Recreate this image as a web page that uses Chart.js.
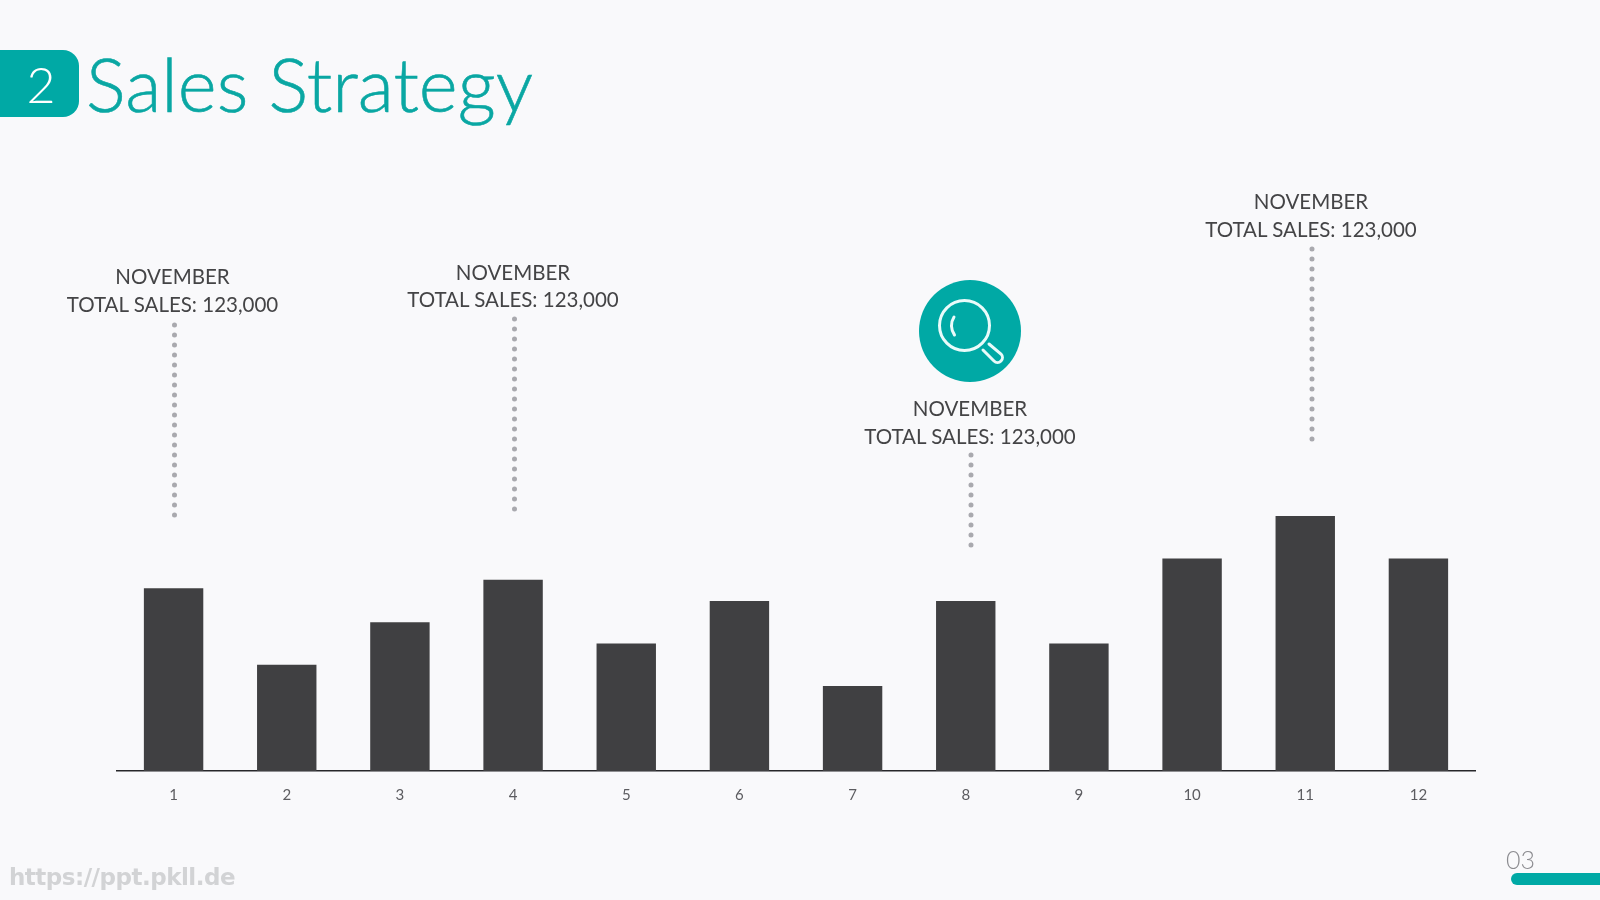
<!DOCTYPE html>
<html>
<head>
<meta charset="utf-8">
<title>Sales Strategy</title>
<script src="https://cdn.jsdelivr.net/npm/chart.js@4"></script>
<style>
    html, body { margin: 0; padding: 0; }
    body { width: 1600px; height: 900px; background: #f9f9fb; overflow: hidden; position: relative; font-family: Lato, sans-serif; }
    #salesChart { position: absolute; left: 0; top: 0; }
    #decor { position: absolute; left: 0; top: 0; }
    .badge { position: absolute; left: 0; top: 50px; width: 79px; height: 67px; background: #00a9a5; border-radius: 0 16px 16px 0; }
    .badge-num { position: absolute; left: 0; top: 48px; width: 82px; height: 72px; line-height: 72px; text-align: center; color: #fff; font-size: 50px; font-weight: 300; }
    .title { position: absolute; left: 86px; top: 37px; color: #0aa7a3; font-size: 74.5px; line-height: 92px; font-weight: 300; white-space: nowrap; -webkit-text-stroke: 0.6px #0aa7a3; }
    .callout { position: absolute; width: 300px; text-align: center; color: #444446; font-size: 20.5px; line-height: 27.5px; white-space: nowrap; }
    .watermark { position: absolute; left: 9px; top: 862px; color: #d2d3d5; font-family: "DejaVu Sans", sans-serif; font-weight: bold; font-size: 23px; line-height: 30px; letter-spacing: -0.5px; white-space: nowrap; }
    .page-num { position: absolute; left: 1506px; top: 844px; color: #8c8c90; font-size: 25px; line-height: 30px; font-weight: 300; }
    .page-bar { position: absolute; left: 1511px; top: 873px; width: 89px; height: 12px; background: #00a9a5; border-radius: 6px 0 0 6px; }
</style>
</head>
<body>
<canvas id="salesChart" width="1600" height="900"></canvas>
<svg id="decor" width="1600" height="900" xmlns="http://www.w3.org/2000/svg"></svg>
<div class="badge"></div>
<div class="badge-num">2</div>
<div class="title">Sales Strategy</div>
<div class="watermark">https://ppt.pkll.de</div>
<div class="page-num">03</div>
<div class="page-bar"></div>
<script>
const categories = ["1", "2", "3", "4", "5", "6", "7", "8", "9", "10", "11", "12"];
const salesValues = [4.3, 2.5, 3.5, 4.5, 3, 4, 2, 4, 3, 5, 6, 5];

const calloutMonth = "NOVEMBER";
const calloutTotal = "TOTAL SALES: 123,000";

// text centre x, first line y, dotted line x / top / bottom
const calloutLayout = [
    [172.5, 277, 174.5, 325, 518],
    [513, 272.5, 514.5, 319, 513],
    [970, 409, 971, 455, 546],
    [1311, 202, 1312, 249, 441],
];

const BAR_COLOR = "#404042";
const AXIS_COLOR = "#27272a";
const TICK_COLOR = "#5c5c60";
const TEAL = "#00a9a5";
const DOT_COLOR = "#a9a9ae";

new Chart(document.getElementById("salesChart").getContext("2d"), {
    type: "bar",
    data: {
        labels: categories,
        datasets: [{
            data: salesValues,
            backgroundColor: BAR_COLOR,
            barPercentage: 0.525,
            categoryPercentage: 1,
        }],
    },
    options: {
        responsive: false,
        animation: false,
        layout: { padding: { left: 117, right: 125, top: 516, bottom: 0 } },
        plugins: { legend: { display: false }, tooltip: { enabled: false } },
        scales: {
            x: {
                grid: { display: false },
                border: { display: true, color: AXIS_COLOR, width: 1.5 },
                ticks: { color: TICK_COLOR, font: { family: "Lato", size: 15 }, padding: 7, maxRotation: 0 },
                afterFit: function (scale) { scale.height = 129; },
            },
            y: { display: false, min: 0, max: 6 },
        },
    },
});

const decor = document.getElementById("decor");

function addSvg(tag, attrs) {
    let el = document.createElementNS("http://www.w3.org/2000/svg", tag);
    for (let key in attrs) el.setAttribute(key, attrs[key]);
    decor.appendChild(el);
}

calloutLayout.forEach(function (c) {
    let box = document.createElement("div");
    box.className = "callout";
    box.style.left = (c[0] - 150) + "px";
    box.style.top = (c[1] - 13.75) + "px";
    box.innerHTML = calloutMonth + "<br>" + calloutTotal;
    document.body.appendChild(box);

    addSvg("line", {
        x1: c[2], x2: c[2], y1: c[3], y2: c[4],
        stroke: DOT_COLOR, "stroke-width": 5, "stroke-linecap": "round", "stroke-dasharray": "0 10",
    });
});

// magnifier icon
addSvg("circle", { cx: 970, cy: 331, r: 51, fill: TEAL });
addSvg("circle", { cx: 964.5, cy: 325.5, r: 25, fill: "none", stroke: "#e9fbfa", "stroke-width": 3 });
addSvg("path", { d: "M954 317 A16 16 0 0 0 954.5 335", fill: "none", stroke: "#e9fbfa", "stroke-width": 3, "stroke-linecap": "round" });
addSvg("path", {
    d: "M983 350 L994 361 A4.8 4.8 0 0 0 1001 354 L989 344",
    fill: "none", stroke: "#e9fbfa", "stroke-width": 3, "stroke-linecap": "round",
});
</script>
</body>
</html>
